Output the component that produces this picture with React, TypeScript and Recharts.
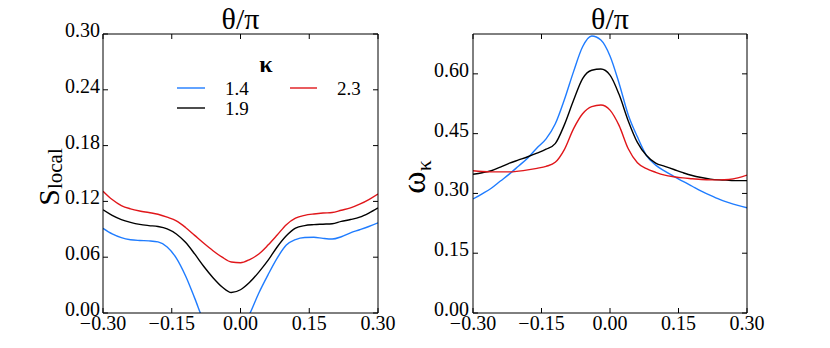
import React from 'react';
import { LineChart, Line, XAxis, YAxis, Legend } from 'recharts';

// theta / pi sample points
const theta = [
  -0.3, -0.28, -0.26, -0.24, -0.22, -0.2, -0.18, -0.16, -0.14, -0.12, -0.1,
  -0.08, -0.06, -0.04, -0.02, 0, 0.02, 0.04, 0.06, 0.08, 0.1,
  0.12, 0.14, 0.16, 0.18, 0.2, 0.22, 0.24, 0.26, 0.28, 0.3,
];

// s_local for kappa = 1.4 / 1.9 / 2.3
const sLocal14 = [
  0.091, 0.085, 0.081, 0.0788, 0.078, 0.0776, 0.0765, 0.071, 0.059, 0.04, 0.016,
  -0.009, -0.025, -0.033, -0.03, -0.018, -0.001, 0.0215, 0.041, 0.059, 0.073,
  0.079, 0.0812, 0.0814, 0.0802, 0.0795, 0.082, 0.0862, 0.0895, 0.093, 0.097,
];
const sLocal19 = [
  0.111, 0.105, 0.1005, 0.0975, 0.0953, 0.094, 0.093, 0.0905, 0.085, 0.076, 0.0635,
  0.05, 0.038, 0.028, 0.022, 0.025, 0.033, 0.044, 0.0565, 0.071, 0.083,
  0.0912, 0.094, 0.095, 0.0955, 0.096, 0.0985, 0.1005, 0.103, 0.1075, 0.113,
];
const sLocal23 = [
  0.131, 0.122, 0.1155, 0.112, 0.1097, 0.108, 0.1062, 0.103, 0.099, 0.092, 0.0835,
  0.075, 0.067, 0.06, 0.0548, 0.054, 0.0575, 0.0635, 0.073, 0.0838, 0.095,
  0.102, 0.105, 0.1065, 0.1075, 0.108, 0.1105, 0.113, 0.117, 0.122, 0.128,
];

// omega_kappa for kappa = 1.4 / 1.9 / 2.3
const omega14 = [
  0.286, 0.299, 0.313, 0.331, 0.349, 0.369, 0.389, 0.414, 0.437, 0.474, 0.535,
  0.605, 0.668, 0.695, 0.685, 0.645, 0.576, 0.497, 0.442, 0.395, 0.371,
  0.356, 0.343, 0.33, 0.318, 0.306, 0.295, 0.285, 0.277, 0.27, 0.264,
];
const omega19 = [
  0.348, 0.352, 0.357, 0.366, 0.376, 0.384, 0.392, 0.401, 0.411, 0.425, 0.472,
  0.533, 0.588, 0.609, 0.612, 0.597, 0.548, 0.482, 0.428, 0.395, 0.376,
  0.368, 0.36, 0.352, 0.345, 0.34, 0.336, 0.334, 0.333, 0.332, 0.332,
];
const omega23 = [
  0.357, 0.355, 0.354, 0.354, 0.354, 0.356, 0.359, 0.363, 0.368, 0.378, 0.41,
  0.462, 0.5, 0.518, 0.522, 0.509, 0.47, 0.412, 0.377, 0.362, 0.353,
  0.346, 0.342, 0.339, 0.337, 0.335, 0.334, 0.334, 0.335, 0.339, 0.346,
];

const kappaLabels = ['1.4', '1.9', '2.3'];
const kappaColors = ['#1f7cff', '#000000', '#e0161a'];

const thetaTicks = [-0.3, -0.15, 0, 0.15, 0.3];
const sTicks = [0, 0.06, 0.12, 0.18, 0.24, 0.3];
const omegaTicks = [0, 0.15, 0.3, 0.45, 0.6];

const sRows = theta.map((t, i) => ({ theta: t, k0: sLocal14[i], k1: sLocal19[i], k2: sLocal23[i] }));
const omegaRows = theta.map((t, i) => ({ theta: t, k0: omega14[i], k1: omega19[i], k2: omega23[i] }));

const FONT = '"Liberation Serif", "Times New Roman", serif';

const fmt = (v: number) => (v < 0 ? '\u2212' : '') + Math.abs(v).toFixed(2);

const XTick = (props: any) => (
  <text x={props.x} y={props.y} dy={17} textAnchor="middle" fontFamily={FONT} fontSize={20} fill="#000">
    {fmt(props.payload.value)}
  </text>
);

const YTick = (props: any) => (
  <text x={props.x} y={props.y} dy={3} textAnchor="end" fontFamily={FONT} fontSize={20} fill="#000">
    {fmt(props.payload.value)}
  </text>
);

const NoTick = () => <g />;

function KappaLegend() {
  return (
    <svg width={200} height={75} style={{ display: 'block' }}>
      <text x={96} y={22} textAnchor="middle" fontFamily={FONT} fontSize={24} fontWeight="bold">κ</text>
      {[0, 1].map((i) => (
        <g key={i}>
          <line x1={7} x2={35} y1={38 + i * 20} y2={38 + i * 20} stroke={kappaColors[i]} strokeWidth={1.4} />
          <text x={55} y={45 + i * 20} fontFamily={FONT} fontSize={19}>{kappaLabels[i]}</text>
        </g>
      ))}
      <line x1={120} x2={147} y1={38} y2={38} stroke={kappaColors[2]} strokeWidth={1.4} />
      <text x={167} y={45} fontFamily={FONT} fontSize={19}>{kappaLabels[2]}</text>
    </svg>
  );
}

type PanelProps = {
  left: number;
  width: number;
  axisWidth: number;
  rightMargin: number;
  rows: any[];
  yMax: number;
  yTicks: number[];
  yMain: string;
  ySub: string;
  yMainSize: number;
  ySubSize: number;
  subShift: number;
  labelX: number;
  tickGap: number;
  showLegend?: boolean;
};

function Panel(p: PanelProps) {
  // the mirrored right axis takes 1px of width
  const plotW = p.width - p.axisWidth - p.rightMargin;
  const cx = p.axisWidth + plotW / 2;
  return (
    <div style={{ position: 'absolute', left: p.left, top: 0 }}>
      <LineChart
        width={p.width}
        height={348}
        data={p.rows}
        margin={{ top: 33, right: p.rightMargin - 1, bottom: 0, left: 0 }}
        style={{ fontFamily: FONT }}
      >
        <XAxis
          dataKey="theta"
          type="number"
          domain={[-0.3, 0.3]}
          ticks={thetaTicks}
          allowDataOverflow
          height={35}
          tickSize={-5}
          tickMargin={5}
          tick={XTick}
          axisLine={{ stroke: '#000', strokeWidth: 1 }}
          tickLine={{ stroke: '#000' }}
        />
        <XAxis
          xAxisId="top"
          orientation="top"
          dataKey="theta"
          type="number"
          domain={[-0.3, 0.3]}
          ticks={thetaTicks}
          allowDataOverflow
          height={1}
          tickSize={-5}
          tick={NoTick}
          axisLine={{ stroke: '#000', strokeWidth: 1 }}
          tickLine={{ stroke: '#000' }}
          label={{
            value: 'θ/π',
            content: () => (
              <text x={cx} y={29} textAnchor="middle" fontFamily={FONT} fontSize={30} fill="#000">θ/π</text>
            ),
          }}
        />
        <YAxis
          type="number"
          domain={[0, p.yMax]}
          ticks={p.yTicks}
          allowDataOverflow
          width={p.axisWidth}
          tickSize={-5}
          tickMargin={5 + p.tickGap}
          tick={YTick}
          axisLine={{ stroke: '#000', strokeWidth: 1 }}
          tickLine={{ stroke: '#000' }}
          label={{
            value: p.yMain + p.ySub,
            content: () => (
              <text
                x={p.labelX}
                y={177}
                textAnchor="middle"
                transform={`rotate(-90 ${p.labelX} 177)`}
                fontFamily={FONT}
                fill="#000"
              >
                <tspan fontSize={p.yMainSize}>{p.yMain}</tspan>
                <tspan fontSize={p.ySubSize} dy={p.subShift}>{p.ySub}</tspan>
              </text>
            ),
          }}
        />
        <YAxis
          yAxisId="right"
          orientation="right"
          type="number"
          domain={[0, p.yMax]}
          ticks={p.yTicks}
          allowDataOverflow
          width={1}
          tickSize={-5}
          tick={NoTick}
          axisLine={{ stroke: '#000', strokeWidth: 1 }}
          tickLine={{ stroke: '#000' }}
        />
        {kappaLabels.map((k, i) => (
          <Line
            key={k}
            name={k}
            dataKey={`k${i}`}
            type="monotone"
            stroke={kappaColors[i]}
            strokeWidth={1.4}
            dot={false}
            activeDot={false}
            isAnimationActive={false}
          />
        ))}
        {p.showLegend && (
          <Legend
            layout="vertical"
            align="center"
            verticalAlign="middle"
            content={() => <KappaLegend />}
            wrapperStyle={{ position: 'absolute', left: 170, top: 50, width: 200, height: 75 }}
          />
        )}
      </LineChart>
    </div>
  );
}

export default function App() {
  return (
    <div style={{ position: 'absolute', left: 0, top: 0, width: 830, height: 348, background: '#fff', fontFamily: FONT }}>
      <Panel
        left={0}
        width={405}
        axisWidth={103}
        rightMargin={27}
        rows={sRows}
        yMax={0.3}
        yTicks={sTicks}
        yMain="S"
        ySub="local"
        yMainSize={30}
        ySubSize={21}
        subShift={3}
        labelX={59}
        tickGap={3}
        showLegend
      />
      <Panel
        left={390}
        width={440}
        axisWidth={83}
        rightMargin={83}
        rows={omegaRows}
        yMax={0.7}
        yTicks={omegaTicks}
        yMain="ω"
        ySub="κ"
        yMainSize={34}
        ySubSize={22}
        subShift={6}
        labelX={35}
        tickGap={4}
      />
    </div>
  );
}
